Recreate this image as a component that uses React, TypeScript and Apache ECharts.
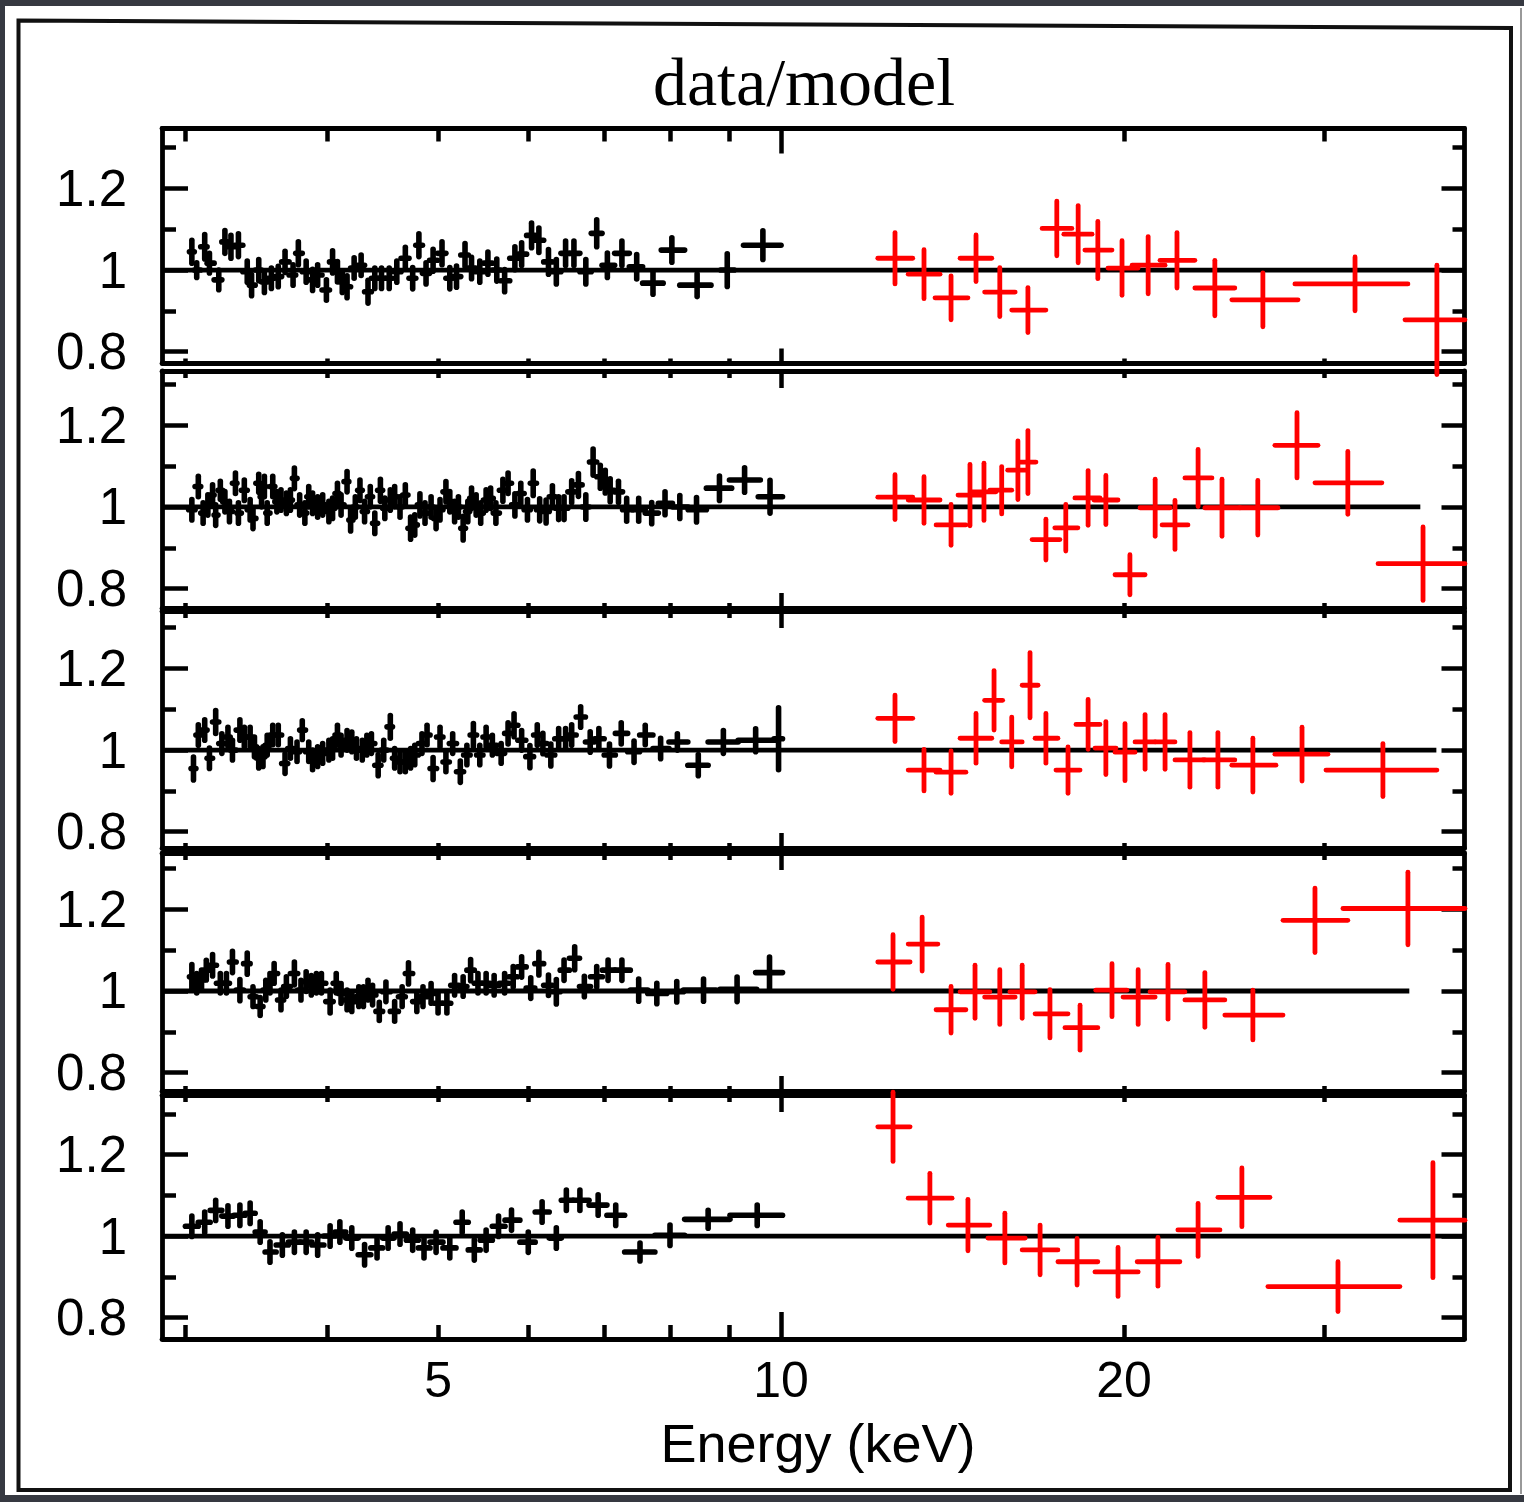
import React, { useEffect, useRef } from "react";
import * as echarts from "echarts";

// ---------- axis definitions (keV, log scale) ----------
const E_MIN = 2.862;
const E_MAX = 39.8;
const X_LABEL_VALUES = [5, 10, 20];
const X_MAJOR_TICKS = [10];
const X_MINOR_TICKS = [3, 4, 5, 6, 7, 8, 9, 20, 30];
const Y_LABEL_VALUES = [0.8, 1, 1.2];
const Y_MINOR_TICKS = [0.9, 1.1, 1.3];
const Y_MIN = [0.771, 0.7525, 0.76, 0.755, 0.7475];
const Y_MAX = [1.347, 1.333, 1.341, 1.338, 1.346];
const MODEL_END = [39.8, 36.4, 37.6, 35.6, 39.8];

// ---------- data: [E, ratio, yErr, (eLo, eHi)] ----------
const black1 = [
  [3.04, 1.045, 0.028], [3.07, 1.0, 0.018], [3.12, 1.057, 0.03], [3.15, 1.017, 0.024], [3.21, 0.976, 0.024],
  [3.25, 1.069, 0.028], [3.29, 1.057, 0.028], [3.34, 1.061, 0.028], [3.4, 0.996, 0.026], [3.43, 0.963, 0.026],
  [3.48, 1.0, 0.026], [3.52, 0.971, 0.026], [3.57, 0.98, 0.025], [3.62, 0.984, 0.025], [3.67, 1.02, 0.026],
  [3.73, 0.988, 0.025], [3.77, 1.041, 0.028], [3.83, 0.996, 0.026], [3.88, 0.976, 0.026], [3.92, 0.988, 0.025],
  [3.99, 0.951, 0.025], [4.04, 1.02, 0.027], [4.08, 0.996, 0.025], [4.12, 0.971, 0.026], [4.16, 0.959, 0.027],
  [4.22, 1.005, 0.025], [4.28, 1.012, 0.025], [4.34, 0.947, 0.028], [4.4, 0.98, 0.025], [4.46, 0.98, 0.025],
  [4.53, 0.98, 0.025], [4.6, 0.996, 0.026], [4.68, 1.029, 0.027], [4.75, 0.98, 0.026], [4.81, 1.061, 0.028],
  [4.88, 0.992, 0.026], [4.95, 1.024, 0.027], [5.04, 1.041, 0.028], [5.12, 0.98, 0.026], [5.19, 0.984, 0.026],
  [5.28, 1.037, 0.028], [5.35, 1.005, 0.026], [5.44, 0.996, 0.026], [5.53, 1.017, 0.027], [5.63, 1.0, 0.027],
  [5.72, 0.974, 0.027], [5.84, 1.029, 0.028], [5.92, 1.039, 0.028], [6.04, 1.085, 0.03], [6.13, 1.073, 0.03],
  [6.25, 1.02, 0.03], [6.35, 0.996, 0.03], [6.47, 1.041, 0.03], [6.58, 1.041, 0.03], [6.74, 0.996, 0.03],
  [6.89, 1.09, 0.033], [7.04, 1.012, 0.03], [7.25, 1.041, 0.03], [7.47, 1.008, 0.03],
  [7.72, 0.968, 0.027, 7.56, 7.88], [8.02, 1.049, 0.03, 7.85, 8.23], [8.44, 0.963, 0.028, 8.15, 8.68],
  [8.97, 1.0, 0.04, 8.85, 9.1], [9.64, 1.061, 0.035, 9.27, 10.0],
];
const red1 = [
  [12.59, 1.029, 0.063, 12.16, 13.05], [13.35, 0.99, 0.06, 12.93, 13.79], [14.1, 0.932, 0.054, 13.65, 14.59],
  [14.83, 1.029, 0.057, 14.36, 15.31], [15.56, 0.946, 0.06, 15.09, 16.05], [16.47, 0.902, 0.055, 15.94, 17.08],
  [17.46, 1.102, 0.067, 16.95, 18.0], [18.23, 1.088, 0.07, 17.71, 18.75], [18.97, 1.049, 0.07, 18.48, 19.52],
  [19.92, 1.005, 0.067, 19.36, 20.58], [21.0, 1.012, 0.07, 20.33, 21.73], [22.26, 1.024, 0.068, 21.51, 23.08],
  [24.03, 0.956, 0.068, 23.08, 25.02], [26.48, 0.927, 0.066, 24.87, 28.43], [31.9, 0.966, 0.066, 28.25, 35.5],
  [37.64, 0.878, 0.134, 35.29, 39.84],
];

const black2 = [
  [3.04, 0.993, 0.025], [3.08, 1.05, 0.025], [3.11, 0.985, 0.025], [3.14, 1.005, 0.025], [3.17, 1.029, 0.025],
  [3.19, 0.98, 0.025], [3.22, 1.041, 0.022], [3.25, 1.013, 0.025], [3.28, 0.989, 0.025], [3.32, 1.058, 0.025],
  [3.34, 0.985, 0.025], [3.38, 1.041, 0.025], [3.42, 0.993, 0.025], [3.44, 0.972, 0.025], [3.48, 1.058, 0.022],
  [3.5, 1.025, 0.025], [3.52, 1.05, 0.025], [3.54, 0.985, 0.025], [3.58, 1.05, 0.025], [3.61, 1.013, 0.025],
  [3.64, 1.017, 0.025], [3.68, 1.009, 0.025], [3.71, 1.017, 0.025], [3.74, 1.07, 0.025], [3.78, 1.005, 0.025],
  [3.82, 0.985, 0.025], [3.85, 1.025, 0.025], [3.88, 1.009, 0.025], [3.92, 1.0, 0.025], [3.96, 1.005, 0.025],
  [4.01, 0.989, 0.025], [4.04, 0.997, 0.025], [4.08, 1.033, 0.025], [4.11, 1.005, 0.025], [4.16, 1.062, 0.025],
  [4.19, 0.968, 0.027], [4.23, 1.0, 0.025], [4.27, 1.041, 0.025], [4.31, 0.989, 0.025], [4.36, 1.025, 0.025],
  [4.4, 0.96, 0.025], [4.45, 1.041, 0.027], [4.49, 0.997, 0.025], [4.54, 1.017, 0.025], [4.58, 1.025, 0.025],
  [4.63, 1.0, 0.025], [4.68, 1.029, 0.025], [4.73, 0.948, 0.027], [4.77, 0.956, 0.025], [4.82, 1.005, 0.027],
  [4.87, 0.985, 0.025], [4.93, 1.0, 0.025], [4.98, 0.972, 0.025], [5.02, 0.993, 0.025], [5.08, 1.037, 0.025],
  [5.12, 1.013, 0.025], [5.17, 0.989, 0.025], [5.21, 1.0, 0.025], [5.26, 0.948, 0.029], [5.31, 0.989, 0.025],
  [5.35, 1.021, 0.025], [5.4, 1.005, 0.025], [5.45, 0.985, 0.025], [5.51, 1.017, 0.025], [5.56, 1.021, 0.025],
  [5.62, 0.985, 0.025], [5.7, 1.041, 0.027], [5.76, 1.058, 0.025], [5.84, 1.005, 0.027], [5.91, 1.033, 0.025],
  [5.99, 0.993, 0.025], [6.06, 1.058, 0.03], [6.14, 0.993, 0.027], [6.22, 0.989, 0.028], [6.3, 1.025, 0.027],
  [6.38, 0.997, 0.028], [6.45, 0.997, 0.028], [6.55, 1.037, 0.027], [6.64, 1.054, 0.028], [6.74, 1.0, 0.03],
  [6.84, 1.11, 0.032], [6.94, 1.074, 0.028], [7.01, 1.062, 0.028], [7.08, 1.041, 0.028], [7.2, 1.037, 0.026],
  [7.32, 0.993, 0.028], [7.5, 0.993, 0.028], [7.7, 0.985, 0.026], [7.91, 1.009, 0.028], [8.15, 1.0, 0.028],
  [8.43, 0.993, 0.03], [8.83, 1.046, 0.03, 8.6, 9.05], [9.29, 1.066, 0.03, 9.01, 9.59], [9.78, 1.025, 0.04, 9.55, 10.03],
];
const red2 = [
  [12.59, 1.024, 0.055, 12.16, 13.05], [13.35, 1.017, 0.057, 12.93, 13.79], [14.1, 0.956, 0.05, 13.68, 14.53],
  [14.65, 1.029, 0.075, 14.3, 15.01], [15.07, 1.037, 0.07, 14.71, 15.44], [15.62, 1.041, 0.058, 15.25, 15.94],
  [16.14, 1.09, 0.072, 15.81, 16.41], [16.47, 1.11, 0.077, 16.21, 16.74], [17.08, 0.92, 0.05, 16.61, 17.57],
  [17.78, 0.949, 0.057, 17.39, 18.22], [18.6, 1.022, 0.067, 18.11, 19.05], [19.28, 1.017, 0.06, 18.82, 19.76],
  [20.24, 0.834, 0.049, 19.64, 20.87], [21.3, 0.998, 0.07, 20.66, 21.95], [22.17, 0.956, 0.06, 21.6, 22.76],
  [23.23, 1.071, 0.07, 22.62, 23.89], [24.38, 0.998, 0.07, 23.55, 25.28], [26.21, 0.998, 0.067, 25.28, 27.3],
  [28.37, 1.151, 0.08, 27.13, 29.6], [31.44, 1.059, 0.077, 29.42, 33.68], [36.6, 0.861, 0.09, 33.42, 39.84],
];

const black3 = [
  [3.05, 0.955, 0.028], [3.08, 1.037, 0.025], [3.12, 1.049, 0.025], [3.15, 0.98, 0.025], [3.19, 1.069, 0.028],
  [3.23, 1.016, 0.024], [3.27, 1.032, 0.024], [3.3, 1.0, 0.024], [3.35, 1.049, 0.025], [3.38, 1.032, 0.024],
  [3.42, 1.032, 0.024], [3.45, 1.008, 0.024], [3.48, 0.98, 0.024], [3.51, 0.984, 0.024], [3.54, 1.012, 0.024],
  [3.58, 1.037, 0.024], [3.62, 1.037, 0.024], [3.67, 0.967, 0.024], [3.71, 1.004, 0.024], [3.76, 0.996, 0.024],
  [3.8, 1.049, 0.023], [3.85, 0.996, 0.024], [3.88, 0.976, 0.024], [3.92, 0.984, 0.024], [3.96, 0.992, 0.024],
  [4.01, 1.0, 0.024], [4.04, 1.004, 0.024], [4.08, 1.037, 0.024], [4.11, 1.012, 0.024], [4.16, 1.024, 0.024],
  [4.2, 1.02, 0.024], [4.24, 1.004, 0.024], [4.29, 1.0, 0.024], [4.33, 1.012, 0.024], [4.37, 1.016, 0.024],
  [4.43, 0.963, 0.026], [4.48, 1.0, 0.024], [4.54, 1.057, 0.028], [4.58, 0.98, 0.024], [4.63, 0.971, 0.024],
  [4.68, 0.971, 0.024], [4.73, 0.98, 0.024], [4.77, 0.988, 0.024], [4.84, 1.016, 0.024], [4.89, 1.037, 0.024],
  [4.95, 0.955, 0.027], [5.02, 1.032, 0.024], [5.08, 0.971, 0.024], [5.15, 1.016, 0.024], [5.23, 0.947, 0.026],
  [5.3, 0.988, 0.024], [5.37, 1.037, 0.028], [5.44, 0.988, 0.024], [5.51, 1.032, 0.024], [5.58, 1.012, 0.024],
  [5.68, 0.992, 0.024], [5.76, 1.041, 0.026], [5.83, 1.061, 0.028], [5.92, 1.024, 0.024], [6.02, 0.984, 0.027],
  [6.11, 1.037, 0.025], [6.18, 1.016, 0.025], [6.28, 0.988, 0.027], [6.38, 1.028, 0.025], [6.47, 1.028, 0.025],
  [6.55, 1.037, 0.025], [6.67, 1.081, 0.025], [6.8, 1.02, 0.025], [6.92, 1.028, 0.025], [7.07, 0.988, 0.027],
  [7.24, 1.041, 0.026], [7.43, 0.996, 0.026], [7.6, 1.037, 0.024], [7.84, 1.004, 0.025], [8.11, 1.02, 0.02],
  [8.46, 0.963, 0.026], [8.9, 1.02, 0.028, 8.63, 9.17], [9.5, 1.024, 0.028, 9.17, 9.88], [9.95, 1.028, 0.076, 9.86, 10.03],
];
const red3 = [
  [12.59, 1.078, 0.057, 12.16, 13.05], [13.35, 0.951, 0.051, 12.93, 13.79], [14.1, 0.946, 0.052, 13.68, 14.53],
  [14.83, 1.029, 0.061, 14.36, 15.31], [15.38, 1.122, 0.073, 15.09, 15.65], [15.94, 1.02, 0.061, 15.62, 16.28],
  [16.54, 1.159, 0.08, 16.28, 16.81], [17.08, 1.029, 0.061, 16.71, 17.5], [17.86, 0.951, 0.057, 17.43, 18.3],
  [18.6, 1.063, 0.061, 18.15, 19.05], [19.28, 1.005, 0.065, 18.86, 19.68], [20.04, 0.995, 0.07, 19.64, 20.45],
  [20.87, 1.02, 0.067, 20.45, 21.3], [21.73, 1.02, 0.067, 21.3, 22.17], [22.85, 0.976, 0.067, 22.17, 23.55],
  [24.18, 0.976, 0.067, 23.46, 25.02], [25.95, 0.963, 0.066, 24.87, 27.19], [28.66, 0.99, 0.066, 27.13, 30.2],
  [33.75, 0.951, 0.065, 30.08, 37.64],
];

const black4 = [
  [3.04, 1.035, 0.03], [3.07, 1.019, 0.024], [3.1, 1.027, 0.024], [3.13, 1.051, 0.024], [3.17, 1.063, 0.026],
  [3.22, 1.019, 0.024], [3.26, 1.019, 0.024], [3.3, 1.071, 0.026], [3.35, 1.002, 0.026], [3.4, 1.067, 0.026],
  [3.44, 0.986, 0.024], [3.49, 0.962, 0.022], [3.53, 1.002, 0.024], [3.56, 1.019, 0.024], [3.59, 1.043, 0.024],
  [3.64, 0.978, 0.024], [3.68, 1.011, 0.024], [3.74, 1.043, 0.028], [3.79, 1.002, 0.024], [3.83, 1.023, 0.024],
  [3.87, 1.014, 0.024], [3.91, 1.019, 0.024], [3.95, 1.019, 0.024], [4.02, 0.974, 0.028], [4.07, 1.019, 0.024],
  [4.11, 0.994, 0.024], [4.16, 0.978, 0.024], [4.2, 0.974, 0.024], [4.26, 0.986, 0.024], [4.3, 0.986, 0.024],
  [4.34, 1.002, 0.024], [4.38, 0.99, 0.024], [4.44, 0.95, 0.022], [4.5, 0.998, 0.024], [4.58, 0.95, 0.024],
  [4.65, 0.986, 0.024], [4.71, 1.043, 0.026], [4.79, 0.974, 0.024], [4.85, 0.986, 0.024], [4.93, 0.994, 0.024],
  [5.0, 0.97, 0.024], [5.09, 0.97, 0.024], [5.17, 1.014, 0.024], [5.26, 1.011, 0.024], [5.34, 1.051, 0.026],
  [5.42, 1.019, 0.024], [5.51, 1.019, 0.024], [5.6, 1.014, 0.024], [5.72, 1.019, 0.024], [5.82, 1.035, 0.025],
  [5.92, 1.059, 0.025], [6.03, 1.007, 0.025], [6.13, 1.067, 0.028], [6.25, 1.014, 0.025], [6.35, 0.998, 0.03],
  [6.45, 1.051, 0.025], [6.59, 1.08, 0.028], [6.72, 1.011, 0.025], [6.89, 1.035, 0.025], [7.05, 1.051, 0.025],
  [7.25, 1.051, 0.025], [7.5, 1.002, 0.027], [7.78, 0.994, 0.025], [8.1, 0.998, 0.025],
  [8.55, 1.002, 0.027, 8.21, 8.77], [9.15, 1.004, 0.03, 8.84, 9.52], [9.77, 1.045, 0.038, 9.5, 10.03],
];
const red4 = [
  [12.54, 1.071, 0.067, 12.16, 12.98], [13.3, 1.115, 0.066, 12.93, 13.73], [14.1, 0.954, 0.057, 13.68, 14.53],
  [14.8, 0.998, 0.065, 14.36, 15.25], [15.56, 0.985, 0.067, 15.09, 16.05], [16.28, 0.998, 0.065, 15.88, 16.71],
  [17.22, 0.944, 0.059, 16.71, 17.86], [18.3, 0.91, 0.055, 17.75, 18.97], [19.52, 1.002, 0.065, 18.89, 20.12],
  [20.58, 0.985, 0.067, 19.96, 21.3], [21.86, 0.998, 0.067, 21.08, 22.62], [23.55, 0.978, 0.067, 22.62, 24.52],
  [25.95, 0.941, 0.061, 24.52, 27.58], [29.42, 1.173, 0.079, 27.58, 31.44], [35.5, 1.202, 0.089, 31.13, 39.84],
];

const black5 = [
  [3.04, 1.024, 0.025], [3.12, 1.034, 0.025], [3.19, 1.063, 0.025], [3.27, 1.049, 0.025], [3.35, 1.051, 0.025],
  [3.42, 1.056, 0.025], [3.49, 1.01, 0.025], [3.56, 0.961, 0.025], [3.65, 0.978, 0.025], [3.74, 0.985, 0.025],
  [3.83, 0.985, 0.025], [3.92, 0.978, 0.025], [4.02, 1.0, 0.025], [4.1, 1.01, 0.025], [4.2, 0.995, 0.025],
  [4.31, 0.954, 0.025], [4.42, 0.971, 0.025], [4.52, 0.995, 0.025], [4.63, 1.005, 0.025], [4.75, 0.99, 0.025],
  [4.86, 0.971, 0.025], [4.98, 0.985, 0.025], [5.12, 0.971, 0.025], [5.25, 1.034, 0.025], [5.38, 0.966, 0.025],
  [5.51, 0.99, 0.025], [5.65, 1.024, 0.025], [5.8, 1.039, 0.025], [6.0, 0.985, 0.025], [6.17, 1.059, 0.025],
  [6.35, 0.995, 0.025], [6.48, 1.088, 0.025], [6.66, 1.088, 0.025], [6.91, 1.076, 0.025], [7.16, 1.051, 0.025],
  [7.52, 0.961, 0.022, 7.29, 7.75], [7.99, 1.002, 0.025, 7.75, 8.23], [8.63, 1.041, 0.022, 8.23, 9.02],
  [9.53, 1.051, 0.025, 9.02, 10.03],
];
const red5 = [
  [12.54, 1.268, 0.085, 12.16, 12.98], [13.51, 1.093, 0.061, 12.93, 14.13], [14.59, 1.027, 0.063, 14.02, 15.25],
  [15.72, 0.995, 0.061, 15.19, 16.38], [16.88, 0.966, 0.061, 16.28, 17.5], [18.19, 0.937, 0.057, 17.5, 18.97],
  [19.76, 0.912, 0.06, 18.86, 20.58], [21.42, 0.937, 0.06, 20.54, 22.39], [23.23, 1.015, 0.065, 22.3, 24.28],
  [25.38, 1.095, 0.072, 24.18, 26.86], [30.82, 0.876, 0.061, 26.75, 34.93], [37.34, 1.039, 0.141, 34.93, 39.84],
];

const BLACK = [black1, black2, black3, black4, black5];
const RED = [red1, red2, red3, red4, red5];

// ---------- layout (pixels) ----------
const W = 1524;
const H = 1502;
const PLOT_LEFT = 162;
const PLOT_WIDTH = 1302.5;
const PANEL_TOP = [128.5, 371, 611, 853, 1095];
const PANEL_BOTTOM = [363.5, 608, 848, 1091, 1339];
const TOP_TICK = [[13, 25], [7, 17], [7, 17], [7, 17], [7, 17]];
const BOTTOM_TICK = [[5, 15], [5, 15], [5, 15], [5, 15], [14, 27]];

const lg = (v: number) => Math.log10(v);

function toBars(points: number[][]) {
  return points.map((p, i) => {
    const e = p[0];
    const prev = points[i - 1];
    const next = points[i + 1];
    let lo = p[3];
    let hi = p[4];
    if (hi === undefined) {
      if (next) hi = next[3] !== undefined ? next[3] : Math.sqrt(e * next[0]);
      else hi = e * 1.01;
    }
    if (lo === undefined) {
      if (prev) lo = prev[4] !== undefined ? prev[4] : Math.sqrt(prev[0] * e);
      else lo = (e * e) / hi;
    }
    return [lg(e), p[1], p[2], lg(lo), lg(hi)];
  });
}

function makeRender(color: string, width: number) {
  return (params: any, api: any) => {
    const x = api.value(0);
    const y = api.value(1);
    const dy = api.value(2);
    const lo = api.value(3);
    const hi = api.value(4);
    const pl = api.coord([lo, y]);
    const pr = api.coord([hi, y]);
    const pt = api.coord([x, y + dy]);
    const pb = api.coord([x, y - dy]);
    const style = { stroke: color, lineWidth: width, lineCap: "round" };
    return {
      type: "group",
      children: [
        { type: "line", shape: { x1: pl[0], y1: pl[1], x2: pr[0], y2: pr[1] }, style },
        { type: "line", shape: { x1: pt[0], y1: pt[1], x2: pb[0], y2: pb[1] }, style },
      ],
    };
  };
}

function buildOption() {
  const grid: any[] = [];
  const xAxis: any[] = [];
  const yAxis: any[] = [];
  const series: any[] = [];
  const lineStyle = { color: "#000", width: 4.8 };
  const tickStyle = { color: "#000", width: 4.5 };

  for (let i = 0; i < 5; i++) {
    grid.push({
      left: PLOT_LEFT,
      top: PANEL_TOP[i],
      width: PLOT_WIDTH,
      height: PANEL_BOTTOM[i] - PANEL_TOP[i],
      containLabel: false,
    });
    const xBase = {
      type: "value",
      gridIndex: i,
      min: lg(E_MIN),
      max: lg(E_MAX),
      splitLine: { show: false },
      minorTick: { show: false },
    };
    const isLast = i === 4;
    xAxis.push({
      ...xBase,
      position: "bottom",
      axisLine: { show: true, onZero: false, lineStyle },
      axisTick: { show: true, inside: true, length: BOTTOM_TICK[i][1], customValues: X_MAJOR_TICKS.map(lg), lineStyle: tickStyle },
      axisLabel: isLast
        ? {
            show: true,
            customValues: X_LABEL_VALUES.map(lg),
            formatter: (v: number) => String(Math.round(Math.pow(10, v))),
            fontFamily: "Liberation Sans",
            fontSize: 50,
            color: "#000",
            margin: 16,
          }
        : { show: false },
    });
    xAxis.push({
      ...xBase,
      position: "bottom",
      axisLine: { show: false, onZero: false },
      axisTick: { show: true, inside: true, length: BOTTOM_TICK[i][0], customValues: X_MINOR_TICKS.map(lg), lineStyle: tickStyle },
      axisLabel: { show: false },
    });
    xAxis.push({
      ...xBase,
      position: "top",
      axisLine: { show: true, onZero: false, lineStyle },
      axisTick: { show: true, inside: true, length: TOP_TICK[i][1], customValues: X_MAJOR_TICKS.map(lg), lineStyle: tickStyle },
      axisLabel: { show: false },
    });
    xAxis.push({
      ...xBase,
      position: "top",
      axisLine: { show: false, onZero: false },
      axisTick: { show: true, inside: true, length: TOP_TICK[i][0], customValues: X_MINOR_TICKS.map(lg), lineStyle: tickStyle },
      axisLabel: { show: false },
    });

    const yBase = {
      type: "value",
      gridIndex: i,
      min: Y_MIN[i],
      max: Y_MAX[i],
      splitLine: { show: false },
      minorTick: { show: false },
    };
    yAxis.push({
      ...yBase,
      position: "left",
      axisLine: { show: true, onZero: false, lineStyle },
      axisTick: { show: true, inside: true, length: 26, customValues: Y_LABEL_VALUES, lineStyle: tickStyle },
      axisLabel: {
        show: true,
        customValues: Y_LABEL_VALUES,
        formatter: (v: number) => (Math.abs(v - 1) < 1e-9 ? "1" : v.toFixed(1)),
        fontFamily: "Liberation Sans",
        fontSize: 51,
        color: "#000",
        margin: 35,
      },
    });
    yAxis.push({
      ...yBase,
      position: "left",
      axisLine: { show: false, onZero: false },
      axisTick: { show: true, inside: true, length: 14, customValues: Y_MINOR_TICKS, lineStyle: tickStyle },
      axisLabel: { show: false },
    });
    yAxis.push({
      ...yBase,
      position: "right",
      axisLine: { show: true, onZero: false, lineStyle },
      axisTick: { show: true, inside: true, length: 23, customValues: Y_LABEL_VALUES, lineStyle: tickStyle },
      axisLabel: { show: false },
    });
    yAxis.push({
      ...yBase,
      position: "right",
      axisLine: { show: false, onZero: false },
      axisTick: { show: true, inside: true, length: 12, customValues: Y_MINOR_TICKS, lineStyle: tickStyle },
      axisLabel: { show: false },
    });

    const ax = { xAxisIndex: i * 4, yAxisIndex: i * 4 };
    series.push({
      type: "line",
      ...ax,
      data: [
        [lg(E_MIN), 1],
        [lg(MODEL_END[i]), 1],
      ],
      symbol: "none",
      lineStyle: { color: "#000", width: 4.8 },
      silent: true,
      z: 2,
    });
    series.push({
      type: "custom",
      ...ax,
      data: toBars(BLACK[i]),
      dimensions: ["x", "y", "err", "lo", "hi"],
      encode: { x: 0, y: 1 },
      renderItem: makeRender("#000000", 5.6),
      clip: false,
      silent: true,
      z: 3,
    });
    series.push({
      type: "custom",
      ...ax,
      data: toBars(RED[i]),
      dimensions: ["x", "y", "err", "lo", "hi"],
      encode: { x: 0, y: 1 },
      renderItem: makeRender("#ff0000", 4.8),
      clip: false,
      silent: true,
      z: 4,
    });
  }

  const graphic: any[] = [
    { type: "rect", shape: { x: 0, y: 0, width: W, height: H }, style: { fill: "#363941" }, z: -20, silent: true },
    { type: "rect", shape: { x: 5, y: 6, width: W - 5, height: H - 13 }, style: { fill: "#ffffff" }, z: -19, silent: true },
    {
      type: "polygon",
      shape: { points: [[18.5, 20.5], [1511, 28], [1510, 1490], [18.5, 1490]] },
      style: { fill: "none", stroke: "#111", lineWidth: 4 },
      z: -18,
      silent: true,
    },
    { type: "line", shape: { x1: 1521, y1: 8, x2: 1521, y2: 1494 }, style: { stroke: "#999", lineWidth: 2 }, z: -18, silent: true },
    {
      type: "text",
      x: 804,
      y: 82,
      style: {
        text: "data/model",
        font: '68px "Liberation Serif"',
        fill: "#000",
        textAlign: "center",
        textVerticalAlign: "middle",
      },
      z: 10,
    },
    {
      type: "text",
      x: 818,
      y: 1443,
      style: {
        text: "Energy (keV)",
        font: '54px "Liberation Sans"',
        fill: "#000",
        textAlign: "center",
        textVerticalAlign: "middle",
      },
      z: 10,
    },
  ];

  return {
    animation: false,
    backgroundColor: "transparent",
    grid,
    xAxis,
    yAxis,
    series,
    graphic,
  };
}

export default function App() {
  const ref = useRef<HTMLDivElement>(null);
  useEffect(() => {
    if (!ref.current) return;
    const chart = echarts.init(ref.current, undefined, { renderer: "svg" });
    chart.setOption(buildOption() as any);
    return () => chart.dispose();
  }, []);
  return (
    <div
      ref={ref}
      style={{ position: "fixed", left: 0, top: 0, width: W, height: H, background: "#ffffff" }}
    />
  );
}
